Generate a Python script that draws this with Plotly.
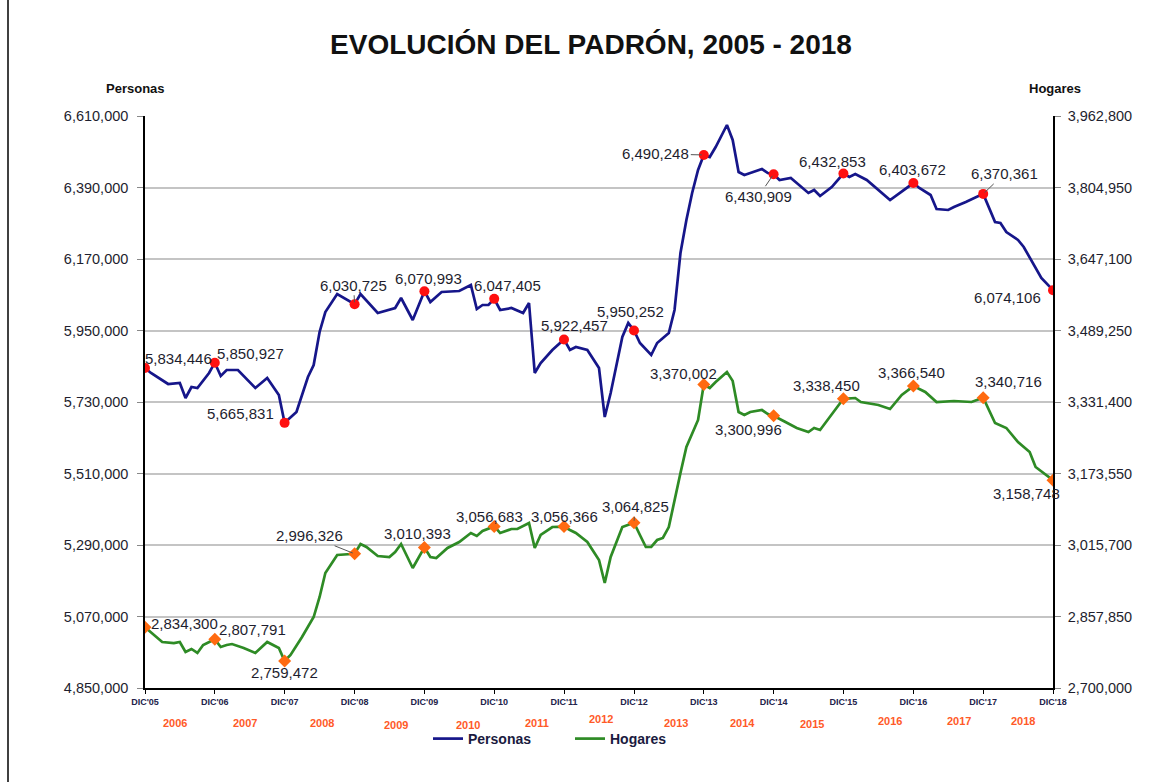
import plotly.graph_objects as go

# ---------------- data ----------------
# month offsets counted from DIC'05 (Dec 2005)
months_personas = [0, 1, 4, 6, 7, 8, 9, 11, 12, 13, 14, 16, 19, 21, 23, 24, 26, 28, 29, 30,
                   31, 33, 36, 37, 40, 43, 44, 46, 48, 49, 51, 54, 56, 57, 58, 59, 60, 61, 63, 65,
                   66, 67, 68, 70, 72, 73, 74, 76, 78, 79, 80, 82, 83, 84, 85, 87, 88, 90, 91, 92,
                   93, 94, 95, 96, 97, 98, 100, 101, 102, 103, 104, 106, 107, 108, 109, 111, 112, 114, 115, 116,
                   118, 120, 121, 122, 124, 128, 132, 133, 135, 136, 138, 139, 141, 144, 146, 147, 148, 150, 151, 152,
                   154, 156]
personas = [5834446, 5819200, 5785400, 5788500, 5742300, 5776200, 5773100, 5819200, 5850927, 5810000,
            5828500, 5828500, 5773100, 5803900, 5751500, 5665831, 5699200, 5806900, 5843900, 5945400,
            6006900, 6062300, 6030725, 6062300, 6003900, 6019200, 6050000, 5982300, 6070993, 6037700,
            6068500, 6071500, 6090000, 6016200, 6028500, 6028500, 6047405, 6013100, 6019200, 6003900,
            6034600, 5819200, 5850000, 5890000, 5922457, 5890000, 5899200, 5890000, 5834600, 5683900,
            5757700, 5930000, 5973100, 5950252, 5911500, 5874600, 5911500, 5942300, 6013100, 6188500,
            6290000, 6373100, 6443800, 6490248, 6483800, 6514600, 6582300, 6536200, 6437700, 6428500,
            6434600, 6446900, 6434600, 6430909, 6413100, 6419200, 6403800, 6373100, 6382300, 6363800,
            6391500, 6432853, 6422300, 6431500, 6413100, 6351500, 6403672, 6388500, 6366900, 6323800,
            6320800, 6330000, 6345400, 6370361, 6283800, 6280800, 6253100, 6228500, 6206900, 6173100,
            6111500, 6074106]

months_hogares = [0, 1, 3, 5, 6, 7, 8, 9, 10, 12, 13, 14, 15, 17, 19, 21, 23, 24, 25, 27,
                  29, 30, 31, 33, 35, 36, 37, 38, 40, 42, 43, 44, 46, 48, 49, 50, 52, 54, 56, 57,
                  58, 60, 61, 63, 64, 66, 67, 68, 70, 72, 73, 74, 76, 78, 79, 80, 82, 84, 85, 86,
                  87, 88, 89, 90, 92, 93, 95, 96, 97, 98, 100, 101, 102, 103, 104, 106, 107, 108, 110, 112,
                  114, 115, 116, 118, 120, 122, 123, 126, 128, 130, 132, 134, 136, 139, 142, 144, 146, 148, 150, 152,
                  153, 156]
hogares = [2834300, 2823600, 2801600, 2799300, 2801600, 2779500, 2786100, 2777300, 2794900, 2807791,
           2790500, 2794900, 2797100, 2788300, 2777300, 2801600, 2788300, 2759472, 2772900, 2812600,
           2856700, 2900900, 2953900, 2993600, 2995800, 2996326, 3017900, 3011300, 2991400, 2989200,
           3000200, 3017900, 2964900, 3010393, 2989200, 2987000, 3009100, 3022300, 3042200, 3035600,
           3046600, 3056683, 3042200, 3051000, 3051000, 3064300, 3009100, 3037800, 3055400, 3056366,
           3048800, 3042200, 3022300, 2982600, 2931800, 2989200, 3055400, 3064825, 3037800, 3011300,
           3011300, 3026700, 3031200, 3055400, 3174700, 3232100, 3291700, 3370002, 3362300, 3375600,
           3397600, 3378000, 3309300, 3302700, 3309300, 3313700, 3304900, 3300996, 3287200, 3274000,
           3265200, 3274000, 3269600, 3302700, 3338450, 3340200, 3331400, 3324800, 3315900, 3346900,
           3366540, 3353500, 3331400, 3333600, 3331400, 3340716, 3285000, 3274000, 3243100, 3221000,
           3187900, 3158748]

dic_labels = ["DIC'05", "DIC'06", "DIC'07", "DIC'08", "DIC'09", "DIC'10", "DIC'11",
              "DIC'12", "DIC'13", "DIC'14", "DIC'15", "DIC'16", "DIC'17", "DIC'18"]
year_labels = ["2006", "2007", "2008", "2009", "2010", "2011", "2012",
               "2013", "2014", "2015", "2016", "2017", "2018"]

left_ticks = [4850000, 5070000, 5290000, 5510000, 5730000, 5950000, 6170000, 6390000, 6610000]
right_ticks = [2700000, 2857850, 3015700, 3173550, 3331400, 3489250, 3647100, 3804950, 3962800]

# ---------------- helpers ----------------
def to_date(m):
    y = 2005 + (11 + m) // 12
    mo = (11 + m) % 12 + 1
    return f"{y}-{mo:02d}-01"

dates_p = [to_date(m) for m in months_personas]
dates_h = [to_date(m) for m in months_hogares]
dic_dates = [to_date(12 * i) for i in range(len(dic_labels))]

mk_p = [(d, v) for m, d, v in zip(months_personas, dates_p, personas) if m % 12 == 0]
mk_h = [(d, v) for m, d, v in zip(months_hogares, dates_h, hogares) if m % 12 == 0]

FONT = "Liberation Sans, Arial, sans-serif"
NAVY = "#16168a"
GREEN = "#2e8b25"
TXT = "#1e1e2e"

fig = go.Figure()
fig.add_trace(go.Scatter(x=dates_p, y=personas, mode="lines", name="Personas",
                         line=dict(color=NAVY, width=2.7), yaxis="y"))
fig.add_trace(go.Scatter(x=dates_h, y=hogares, mode="lines", name="Hogares",
                         line=dict(color=GREEN, width=2.7), yaxis="y2"))
fig.add_trace(go.Scatter(x=[d for d, v in mk_p], y=[v for d, v in mk_p], mode="markers",
                         marker=dict(color="#ff1010", size=10, symbol="circle"),
                         showlegend=False, yaxis="y"))
fig.add_trace(go.Scatter(x=[d for d, v in mk_h], y=[v for d, v in mk_h], mode="markers",
                         marker=dict(color="#ff6a10", size=10, symbol="diamond"),
                         showlegend=False, yaxis="y2"))

# label offsets (pixels, text centre relative to marker) and whether a leader line is drawn
off_p = [(33, -10, 0), (36, -9, 0), (-44, -9, 0), (-1, -19, 1), (4, -13, 0), (13, -13, 0), (10, -14, 0),
         (-4, -19, 0), (-48, -1, 1), (-15, 22, 1), (-11, -12, 0), (-1, -14, 0), (21, -20, 1), (-46, 7, 0)]
off_h = [(39, -4, 0), (38, -10, 0), (0, 11, 0), (-45, -18, 1), (-7, -14, 0), (-5, -10, 0), (0, -10, 0),
         (1, -16, 1), (-20, -11, 0), (-25, 14, 0), (-17, -13, 0), (-2, -14, 0), (25, -16, 0), (-27, 13, 0)]

annotations = []
for (d, v), (dx, dy, lead), yr in [(a, b, "y") for a, b in zip(mk_p, off_p)] + \
                                   [(a, b, "y2") for a, b in zip(mk_h, off_h)]:
    base = dict(x=d, y=v, xref="x", yref=yr, text=f"{v:,}",
                font=dict(family=FONT, size=15, color=TXT))
    if lead:
        base.update(showarrow=True, ax=dx, ay=dy, axref="pixel", ayref="pixel",
                    arrowhead=0, arrowwidth=1, arrowcolor="#555555", standoff=2)
    else:
        base.update(showarrow=False, xshift=dx, yshift=-dy)
    annotations.append(base)

# year labels under the axis (pixel positions in 1166x782 canvas)
L, R, T, B = 145, 1053, 116, 688
year_pos = [(175, 723), (245, 723), (322, 723), (396, 725), (468, 725), (537, 723), (601, 719),
            (676, 723), (742, 723), (812, 724), (890, 721), (959, 721), (1023, 721)]
for lab, (px, py) in zip(year_labels, year_pos):
    annotations.append(dict(x=(px - L) / (R - L), y=(B - py) / (B - T), xref="paper", yref="paper",
                            text=lab, showarrow=False, xanchor="center", yanchor="middle",
                            font=dict(family=FONT, size=11, color="#ff5a28", weight="bold")))

annotations.append(dict(x=(135 - L) / (R - L), y=(B - 88) / (B - T), xref="paper", yref="paper",
                        text="Personas", showarrow=False, xanchor="center", yanchor="middle",
                        font=dict(family=FONT, size=13, color="#111111", weight="bold")))
annotations.append(dict(x=(1055 - L) / (R - L), y=(B - 88) / (B - T), xref="paper", yref="paper",
                        text="Hogares", showarrow=False, xanchor="center", yanchor="middle",
                        font=dict(family=FONT, size=13, color="#111111", weight="bold")))

fig.update_layout(
    width=1166, height=782,
    margin=dict(l=L, r=1166 - R, t=T, b=782 - B),
    paper_bgcolor="white", plot_bgcolor="white",
    font=dict(family=FONT, color=TXT),
    title=dict(text="EVOLUCIÓN DEL PADRÓN, 2005 - 2018", x=(591 - L) / (R - L), xref="paper",
               xanchor="center", y=1 - 44 / 782, yref="container", yanchor="middle",
               font=dict(family=FONT, size=28, color="#111111", weight="bold")),
    xaxis=dict(type="date", range=[dic_dates[0], dic_dates[-1]], tickvals=dic_dates, ticktext=dic_labels,
               showgrid=False, showline=True, linecolor="black", linewidth=1.5,
               ticks="outside", ticklen=4, tickcolor="black", zeroline=False,
               tickfont=dict(family=FONT, size=9, color="#22224a", weight="bold")),
    yaxis=dict(range=[left_ticks[0], left_ticks[-1]], tickvals=left_ticks, tickformat=",",
               showgrid=True, gridcolor="#c4c4c4", gridwidth=1.5, zeroline=False,
               showline=True, linecolor="black", linewidth=1.5,
               ticks="outside", ticklen=6, tickcolor="#888888", ticklabelstandoff=6,
               tickfont=dict(family=FONT, size=14.5, color=TXT)),
    yaxis2=dict(range=[right_ticks[0], right_ticks[-1]], tickvals=right_ticks, tickformat=",",
                overlaying="y", side="right", showgrid=False, zeroline=False,
                showline=True, linecolor="black", linewidth=1.5,
                ticks="outside", ticklen=6, tickcolor="#888888", ticklabelstandoff=4,
                tickfont=dict(family=FONT, size=14.5, color=TXT)),
    legend=dict(orientation="h", x=(428 - L) / (R - L), xanchor="left", y=(B - 739) / (B - T),
                yanchor="middle", font=dict(family=FONT, size=14, color="#1a1a40", weight="bold"),
                bgcolor="rgba(0,0,0,0)", itemwidth=30, tracegroupgap=0,
                entrywidth=97, entrywidthmode="pixels"),
    annotations=annotations,
    shapes=[dict(type="line", xref="paper", yref="paper", x0=(8 - L) / (R - L), x1=(8 - L) / (R - L),
                 y0=(B - 0) / (B - T), y1=(B - 782) / (B - T), line=dict(color="black", width=1.5))],
    showlegend=True,
)

fig.write_html("out.html", config={"displayModeBar": False},
               post_script="document.body.style.margin='0';")
